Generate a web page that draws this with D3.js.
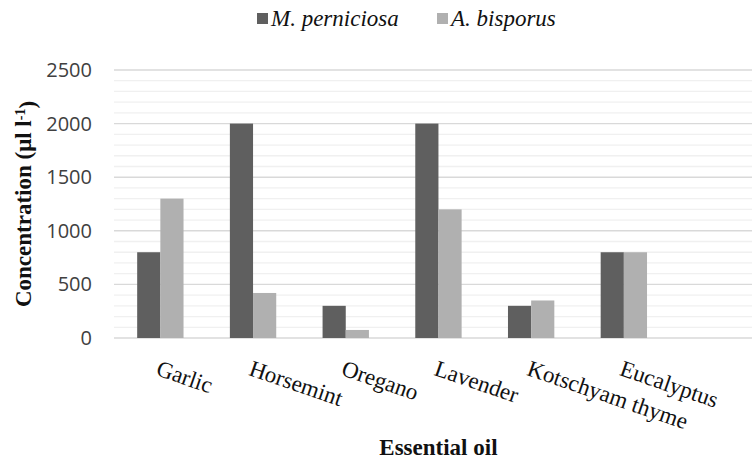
<!DOCTYPE html>
<html>
<head>
<meta charset="utf-8">
<script src="https://cdn.jsdelivr.net/npm/d3@7"></script>
<style>
  body { margin: 0; background: #fff; }
  svg { display: block; }
  .serif { font-family: "Liberation Serif", Tinos, "Times New Roman", Times, "DejaVu Serif", serif; }
</style>
</head>
<body>
<script>
// chart values
var categories = ["Garlic", "Horsemint", "Oregano", "Lavender", "Kotschyam thyme", "Eucalyptus"];
var seriesNames = ["M. perniciosa", "A. bisporus"];
var perniciosa = [800, 2000, 300, 2000, 300, 800];
var bisporus = [1300, 420, 75, 1200, 350, 800];
var yTicks = [0, 500, 1000, 1500, 2000, 2500];

var colors = ["#5f5f5f", "#b0b0b0"];

function plotTheData(){
    var svgWidth = 752;
    var svgHeight = 459;

    var margin = { top: 70, left: 114 };
    var chartHeight = 268;
    // the original plot area holds one empty slot after the last category
    var slotWidth = 92.7;
    var chartWidth = slotWidth * (categories.length + 1);

    var svg = d3.select("body")
        .append("svg")
        .attr("width", svgWidth)
        .attr("height", svgHeight);

    var chartGroup = svg.append("g")
        .attr("transform", `translate(${margin.left}, ${margin.top})`);

    var y = d3.scaleLinear()
        .domain([0, 2500])
        .range([chartHeight, 0]);

    var x0 = d3.scaleBand()
        .domain(categories)
        .range([0, slotWidth * categories.length]);

    // bars are slot/4 wide with a slot/4 gap each side
    var x1 = d3.scaleBand()
        .domain(seriesNames)
        .range([slotWidth / 4, slotWidth * 3 / 4]);

    // minor gridlines every 100
    chartGroup.append("g")
        .selectAll("line")
        .data(d3.range(100, 2501, 100).filter(d => d % 500 !== 0))
        .enter()
        .append("line")
        .attr("x1", 0)
        .attr("x2", chartWidth)
        .attr("y1", d => y(d))
        .attr("y2", d => y(d))
        .attr("stroke", "#f0f0f0")
        .attr("stroke-width", 1.3);

    // major gridlines
    chartGroup.append("g")
        .selectAll("line")
        .data(yTicks)
        .enter()
        .append("line")
        .attr("x1", 0)
        .attr("x2", chartWidth)
        .attr("y1", d => y(d))
        .attr("y2", d => y(d))
        .attr("stroke", "#d9d9d9")
        .attr("stroke-width", 1.4);

    // y axis labels
    var yAxis = chartGroup.append("g")
        .attr("transform", "translate(-22,0)")
        .call(d3.axisLeft(y).tickValues(yTicks).tickFormat(d3.format("d")).tickSize(0).tickPadding(0));
    yAxis.select(".domain").remove();
    yAxis.selectAll("text")
        .attr("font-family", "'Open Sans', 'Liberation Sans', sans-serif")
        .attr("font-size", "20px")
        .attr("fill", "#404040");

    // bars
    var rows = categories.map(function(c, i) {
        return { cat: c, values: [perniciosa[i], bisporus[i]] };
    });

    chartGroup.append("g")
        .selectAll("g")
        .data(rows)
        .enter()
        .append("g")
        .attr("transform", d => `translate(${x0(d.cat)},0)`)
        .selectAll("rect")
        .data(d => d.values.map((v, j) => ({ name: seriesNames[j], value: v, j: j })))
        .enter()
        .append("rect")
        .attr("x", d => x1(d.name))
        .attr("width", x1.bandwidth())
        .attr("y", d => y(d.value))
        .attr("height", d => chartHeight - y(d.value))
        .attr("fill", d => colors[d.j]);

    // category labels, slanted
    chartGroup.append("g")
        .selectAll("text")
        .data(categories)
        .enter()
        .append("text")
        .attr("class", "serif")
        .attr("transform", d => `translate(${x0(d) + x0.bandwidth() / 2}, ${chartHeight + 21}) rotate(19)`)
        .attr("dy", "0.72em")
        .attr("font-size", "23px")
        .attr("fill", "#111")
        .text(d => d);

    // axis titles
    svg.append("text")
        .attr("class", "serif")
        .attr("x", margin.left + chartWidth / 2)
        .attr("y", 455)
        .attr("text-anchor", "middle")
        .attr("font-weight", "bold")
        .attr("font-size", "23px")
        .attr("fill", "#111")
        .text("Essential oil");

    var yTitle = svg.append("text")
        .attr("class", "serif")
        .attr("transform", "translate(31, 204) rotate(-90)")
        .attr("text-anchor", "middle")
        .attr("font-weight", "bold")
        .attr("font-size", "23px")
        .attr("fill", "#111");
    yTitle.append("tspan").text("Concentration (μl l");
    yTitle.append("tspan").attr("dy", "-0.4em").attr("font-size", "14px").text("-1");
    yTitle.append("tspan").attr("dy", "0.4em").text(")");

    // legend
    var legendX = [257, 437];
    var legend = svg.append("g")
        .selectAll("g")
        .data(seriesNames)
        .enter()
        .append("g")
        .attr("transform", (d, i) => `translate(${legendX[i]}, 0)`);
    legend.append("rect")
        .attr("x", 0)
        .attr("y", 13)
        .attr("width", 11)
        .attr("height", 11)
        .attr("fill", (d, i) => colors[i]);
    legend.append("text")
        .attr("class", "serif")
        .attr("x", 14)
        .attr("y", 26)
        .attr("font-style", "italic")
        .attr("font-size", "23px")
        .attr("fill", "#111")
        .text(d => d);
}

plotTheData();
</script>
</body>
</html>
